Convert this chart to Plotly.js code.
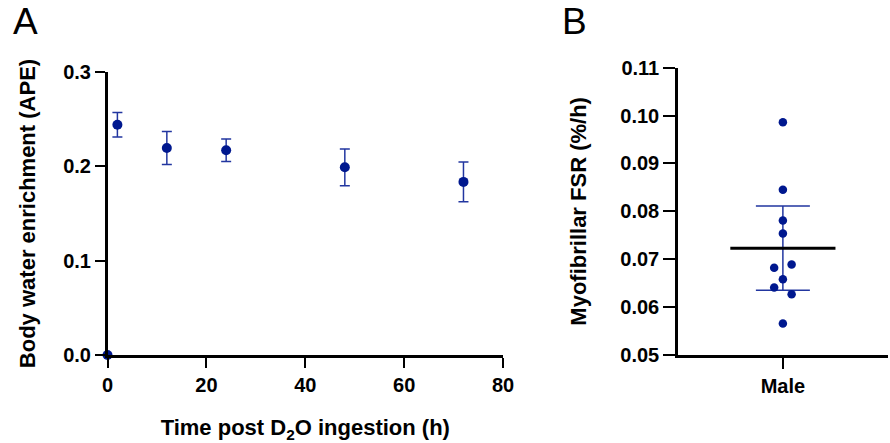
<!DOCTYPE html>
<html>
<head>
<meta charset="utf-8">
<script src="https://cdn.plot.ly/plotly-3.0.1.min.js"></script>
<style>html,body{margin:0;padding:0;background:#fff;}#chart{width:890px;height:443px;}</style>
</head>
<body>
<div id="chart"></div>
<script>
// Panel A: body water enrichment over time
const timeHours = [0, 2, 12, 24, 48, 72];
const enrichmentAPE = [0, 0.244, 0.2195, 0.217, 0.199, 0.1835];
const enrichmentSD = [0, 0.013, 0.0175, 0.012, 0.0195, 0.021];

// Panel B: myofibrillar FSR, individual males (jittered positions)
const fsrValues = [0.0986, 0.0845, 0.0781, 0.0754, 0.0689, 0.0682, 0.0658, 0.0641, 0.0627, 0.0566];
const fsrJitter = [0, 0, 0, 0, 0.083, -0.083, 0, -0.083, 0.083, 0];
const fsrMean = 0.0723;
const fsrSDUpper = 0.0811;
const fsrSDLower = 0.0635;
const groupLabels = ['Male'];

const dotColor = '#00188f';
const errColor = '#2236a0';
const fontFam = '"Liberation Sans", Arial, sans-serif';

const traces = [
  {
    x: timeHours.slice(1), y: enrichmentAPE.slice(1),
    type: 'scatter', mode: 'markers',
    marker: {color: dotColor, size: 10},
    error_y: {type: 'data', array: enrichmentSD.slice(1), visible: true, color: errColor, thickness: 1.5, width: 5},
    cliponaxis: false, xaxis: 'x', yaxis: 'y', showlegend: false
  },
  {
    x: timeHours.slice(0, 1), y: enrichmentAPE.slice(0, 1),
    type: 'scatter', mode: 'markers',
    marker: {color: dotColor, size: 10},
    cliponaxis: false, xaxis: 'x', yaxis: 'y', showlegend: false
  },
  {
    x: [0], y: [fsrMean],
    type: 'scatter', mode: 'markers',
    marker: {color: 'rgba(0,0,0,0)', size: 1},
    error_y: {type: 'data', symmetric: false, array: [fsrSDUpper - fsrMean], arrayminus: [fsrMean - fsrSDLower], visible: true, color: errColor, thickness: 1.5, width: 27},
    xaxis: 'x2', yaxis: 'y2', showlegend: false, hoverinfo: 'skip'
  },
  {
    x: [-0.5, 0.5], y: [fsrMean, fsrMean],
    type: 'scatter', mode: 'lines',
    line: {color: '#000', width: 3},
    xaxis: 'x2', yaxis: 'y2', showlegend: false
  },
  {
    x: fsrJitter, y: fsrValues,
    type: 'scatter', mode: 'markers',
    marker: {color: dotColor, size: 8.5},
    xaxis: 'x2', yaxis: 'y2', showlegend: false
  }
];

const axisCommon = {
  showgrid: false, zeroline: false, showline: true, linecolor: '#000', linewidth: 2.5,
  ticks: 'outside', ticklen: 10, tickwidth: 2, tickcolor: '#000',
  tickfont: {family: fontFam, size: 20, color: '#000', weight: 'bold'}
};
const titleFont = {family: fontFam, size: 22, color: '#000'};

const layout = {
  width: 890, height: 443,
  margin: {l: 0, r: 0, t: 0, b: 0},
  paper_bgcolor: '#fff', plot_bgcolor: '#fff',
  font: {family: fontFam, color: '#000'},
  xaxis: Object.assign({}, axisCommon, {
    domain: [0.1208, 0.5652], range: [0, 80], tickvals: [0, 20, 40, 60, 80],
    title: {text: '<b>Time post D<sub>2</sub>O ingestion (h)</b>', font: titleFont, standoff: 34},
    anchor: 'y', automargin: false
  }),
  yaxis: Object.assign({}, axisCommon, {
    domain: [0.1986, 0.8375], range: [0, 0.3], tickvals: [0, 0.1, 0.2, 0.3], tickformat: '.1f',
    title: {text: '<b>Body water enrichment (APE)</b>', font: titleFont, standoff: 22},
    anchor: 'x', automargin: false
  }),
  xaxis2: Object.assign({}, axisCommon, {
    domain: [0.7615, 0.9978], range: [-1, 1], tickvals: [0], ticktext: groupLabels,
    ticklen: 11, anchor: 'y2', automargin: false
  }),
  yaxis2: Object.assign({}, axisCommon, {
    domain: [0.1986, 0.8472], range: [0.05, 0.11], tickvals: [0.05, 0.06, 0.07, 0.08, 0.09, 0.10, 0.11], tickformat: '.2f',
    ticklen: 12,
    title: {text: '<b>Myofibrillar FSR (%/h)</b>', font: titleFont, standoff: 28},
    anchor: 'x2', automargin: false
  }),
  annotations: [
    {text: 'A', x: 11, y: 44},
    {text: 'B', x: 560, y: 44}
  ].map(a => Object.assign(a, {
    x: a.x / 890, y: 1 - a.y / 443, xref: 'paper', yref: 'paper', showarrow: false,
    xanchor: 'left', yanchor: 'bottom',
    font: {family: fontFam, size: 37, color: '#000'}
  }))
};

Plotly.newPlot('chart', traces, layout, {displayModeBar: false, staticPlot: true});
</script>
</body>
</html>
